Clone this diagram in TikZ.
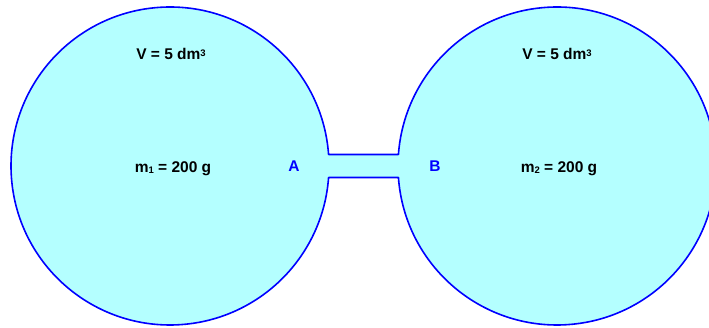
\documentclass[tikz,border=0pt]{standalone}
\usepackage{fontspec}
\setmainfont{Liberation Sans}
\usetikzlibrary{calc}
\definecolor{vesselfill}{RGB}{180,255,255}
\definecolor{vesselline}{RGB}{0,0,255}
\newcommand{\smallidx}[1]{{\fontsize{9.5}{9.5}\selectfont #1}}
\begin{document}
\begin{tikzpicture}[x=1pt,y=1pt,
  txtlabel/.style={font=\bfseries\fontsize{15.5}{17}\selectfont, text=black, inner sep=0pt, anchor=base},
  pointlabel/.style={font=\bfseries\fontsize{15.5}{17}\selectfont, text=vesselline, inner sep=0pt, anchor=base}]
\useasboundingbox (0,0) rectangle (709,328);
\clip (0,0) rectangle (709,328);
\coordinate (cl) at (170,162);
\coordinate (cr) at (557,162);
\filldraw[fill=vesselfill, draw=vesselline, line width=1.6pt, line join=round]
  ($(cl)+(4.15:159)$) arc[start angle=4.15, end angle=355.85, radius=159]
  -- ($(cr)+(184.15:159)$) arc[start angle=184.15, end angle=535.85, radius=159]
  -- cycle;
\node[txtlabel] (vl) at (171,268) {V = 5 dm\raisebox{3.8pt}{\smallidx{3}}};
\node[txtlabel] (vr) at (557,268) {V = 5 dm\raisebox{3.8pt}{\smallidx{3}}};
\node[txtlabel] (ml) at (173,155) {m\raisebox{-1pt}{\smallidx{1}} = 200 g};
\node[txtlabel] (mr) at (559,155) {m\raisebox{-1pt}{\smallidx{2}} = 200 g};
\node[pointlabel] (a) at (294,156) {A};
\node[pointlabel] (b) at (435,156.5) {B};
\end{tikzpicture}
\end{document}
